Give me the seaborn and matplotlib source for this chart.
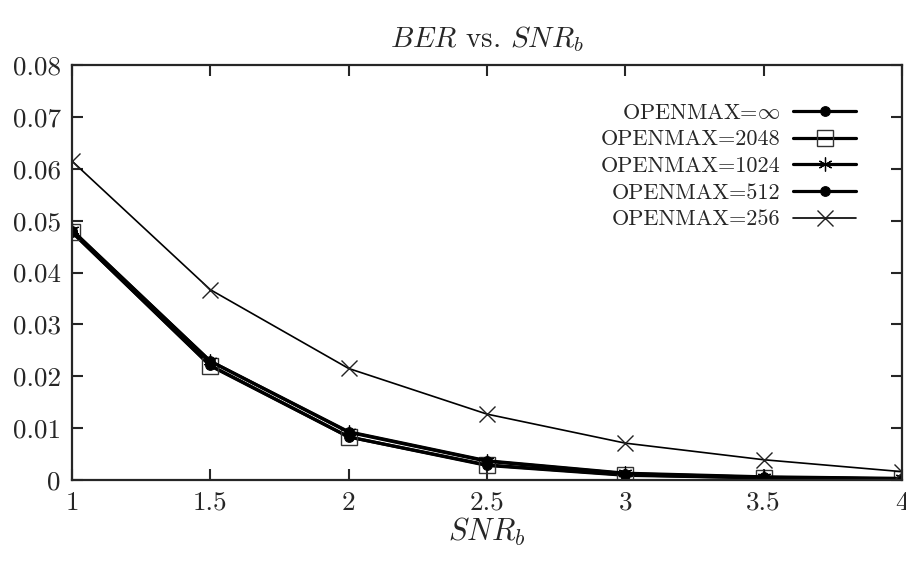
import numpy as np
import pandas as pd
import matplotlib
matplotlib.use("Agg")
import matplotlib.pyplot as plt
import seaborn as sns

snr = [1.0, 1.5, 2.0, 2.5, 3.0, 3.5, 4.0]
ber_inf = [0.0478, 0.0221, 0.0083, 0.0028, 0.0009, 0.0004, 0.0002]
ber_2048 = [0.0478, 0.0220, 0.0083, 0.0029, 0.0010, 0.0004, 0.0002]
ber_1024 = [0.0482, 0.0229, 0.0093, 0.0037, 0.0013, 0.0006, 0.0003]
ber_512 = [0.0481, 0.0229, 0.0092, 0.0036, 0.0012, 0.0005, 0.0002]
ber_256 = [0.0615, 0.0367, 0.0215, 0.0127, 0.0071, 0.0039, 0.0016]

labels = [r"OPENMAX=$\infty$", "OPENMAX=2048", "OPENMAX=1024",
          "OPENMAX=512", "OPENMAX=256"]
xtick_labels = ["1", "1.5", "2", "2.5", "3", "3.5", "4"]
ytick_vals = [0, 0.01, 0.02, 0.03, 0.04, 0.05, 0.06, 0.07, 0.08]
ytick_labels = ["0", "0.01", "0.02", "0.03", "0.04", "0.05", "0.06", "0.07", "0.08"]

sns.set_style("ticks")
plt.rcParams["font.family"] = ["cmr10", "DejaVu Serif"]
plt.rcParams["mathtext.fontset"] = "cm"
plt.rcParams["axes.formatter.use_mathtext"] = True

fig = plt.figure(figsize=(9.06, 5.62), dpi=100)
ax = fig.add_axes([0.0795, 0.146, 0.916, 0.738])

series = [ber_inf, ber_2048, ber_1024, ber_512, ber_256]
styles = [
    dict(marker="o", markersize=7, lw=2.3, mfc="black", mec="black"),
    dict(marker="s", markersize=11, lw=2.3, mfc="none", mec="#333333", mew=1.0),
    dict(marker=(6, 2, 0), markersize=10, lw=2.3, mec="black", mew=0.9),
    dict(marker="o", markersize=7, lw=2.3, mfc="black", mec="black"),
    dict(marker="x", markersize=11, lw=1.2, mec="#222222", mew=1.0),
]
for vals, lab, st in zip(series, labels, styles):
    df = pd.DataFrame({"snr": snr, "ber": vals})
    sns.lineplot(data=df, x="snr", y="ber", ax=ax, color="black", label=lab,
                 linewidth=st.pop("lw"), **st)

ax.set_xlim(1, 4)
ax.set_ylim(0, 0.08)
ax.set_xticks(snr)
ax.set_xticklabels(xtick_labels)
ax.set_yticks(ytick_vals)
ax.set_yticklabels(ytick_labels)
ax.tick_params(direction="in", length=8, width=1.5, top=True, right=True,
               labelsize=19.5, pad=8)
for s in ax.spines.values():
    s.set_linewidth(1.6)

ax.set_xlabel(r"$SNR_b$", fontsize=22, labelpad=1)
ax.set_ylabel("")
ax.set_title(r"$BER$ vs. $SNR_b$", fontsize=21, pad=13)

leg = ax.legend(loc="upper right", bbox_to_anchor=(0.955, 0.93), frameon=False,
                markerfirst=False, fontsize=16, handlelength=2.8,
                labelspacing=0.32, handletextpad=0.6, borderaxespad=0)
for col in leg._legend_handle_box.get_children():
    col.align = "right"

fig.savefig("out.png", dpi=100)
